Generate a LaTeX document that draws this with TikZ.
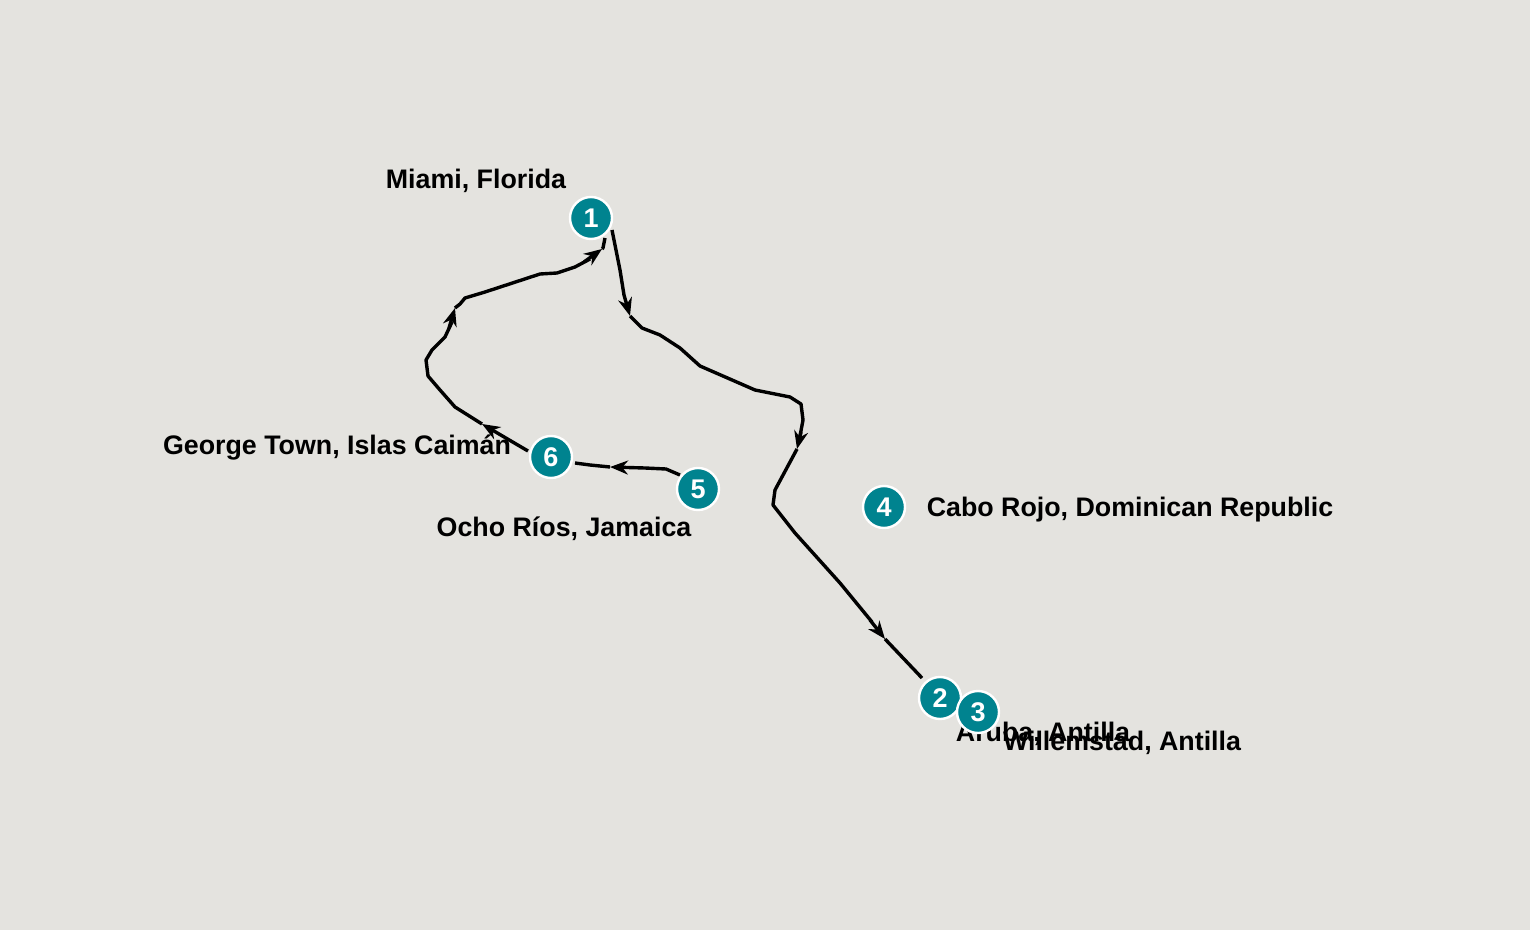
\documentclass[tikz,border=0pt]{standalone}
\usepackage{fontspec}
\setmainfont{Liberation Sans}
\usetikzlibrary{arrows.meta}
\definecolor{bg}{HTML}{E4E3DF}
\definecolor{teal}{HTML}{00838F}
\tikzset{
  mk/.style={circle,fill=teal,draw=white,line width=1.2pt,minimum size=21pt,inner sep=0pt,text=white,font=\fontsize{13.5}{13.5}\selectfont\bfseries},
  lbl/.style={font=\fontsize{13.4}{14}\selectfont\bfseries,inner sep=0pt},
  route/.style={line width=1.7pt,line join=round},
  rarr/.style={route,-{Stealth[length=9pt,width=7pt]}}
}
\begin{document}
\begin{tikzpicture}[x=0.5pt,y=-0.5pt]
\fill[bg] (0,0) rectangle (1530,930);
\useasboundingbox (0,0) rectangle (1530,930);
% labels
\node[lbl] (l1) at (476,181) {Miami, Florida};
\node[lbl] (l6) at (337,448) {George Town, Islas Caimán};
\node[lbl] (l5) at (564,529) {Ocho Ríos, Jamaica};
\node[lbl] (l4) at (1130,510) {Cabo Rojo, Dominican Republic};
\node[lbl] (l2) at (1043,734) {Aruba, Antilla};
\node[lbl] (l3) at (1122,743) {Willemstad, Antilla};
% route coordinates
\coordinate (a1) at (630,316);
\coordinate (a2) at (797,449);
\coordinate (a3) at (885,639);
\coordinate (a4) at (610,467);
\coordinate (a5) at (455,308);
\coordinate (a6) at (602,249);
% 1 -> 2
\draw[rarr] (612,230) -- (620,270) -- (624,295) -- (a1);
\draw[route] (a1) -- (642,328) -- (660,335) -- (680,348) -- (700,366) -- (755,390) -- (790,397) -- (801,404) -- (803,420) -- (800,436);
\draw[rarr] (801,432) -- (a2);
\draw[route] (a2) -- (775,490) -- (773,505) -- (795,533) -- (840,583) -- (872,622);
\draw[rarr] (870,620) -- (a3);
\draw[route] (a3) -- (922,678);
% 5 -> 6
\draw[rarr] (680,475) -- (666,469) -- (645,468) -- (a4);
\draw[route] (a4) -- (590,465) -- (575,463);
% 6 -> 1
\draw[rarr] (528,451) -- (482,424);
\draw[route] (482,424) -- (455,407) -- (440,390) -- (428,376) -- (426,360) -- (432,350) -- (445,337) -- (452,322);
\draw[rarr] (449,328) -- (a5);
\draw[route] (a5) -- (460,304) -- (465,298) -- (485,292) -- (540,274) -- (557,273) -- (575,267) -- (590,259);
\draw[rarr] (584,262) -- (a6);
\draw[route] (a6) -- (603,248) -- (605,238);
% markers
\node[mk] (n1) at (591,218) {1};
\node[mk] (n4) at (884,507) {4};
\node[mk] (n5) at (698,489) {5};
\node[mk] (n6) at (551,457) {6};
\node[mk] (n2) at (940,698) {2};
\node[mk] (n3) at (978,712) {3};
\end{tikzpicture}
\end{document}
